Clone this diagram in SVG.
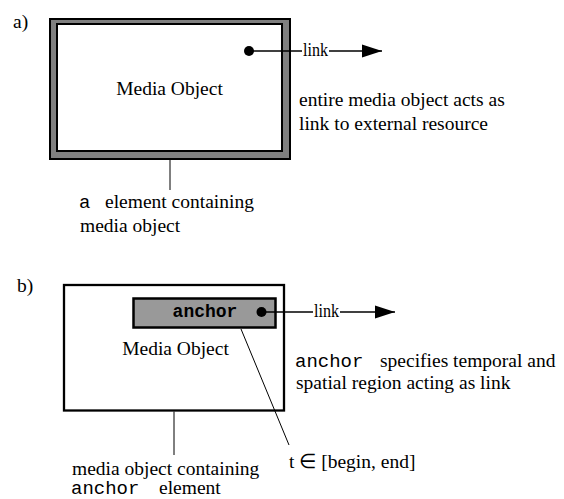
<svg xmlns="http://www.w3.org/2000/svg" width="564" height="499" viewBox="0 0 564 499">
  <defs>
    <style>
      .serif { font-family: "Liberation Serif", "Times New Roman", serif; font-size: 19.5px; fill: #000; }
      .mono { font-family: "Liberation Mono", "Courier New", monospace; font-size: 19px; fill: #000; }
      .monob { font-family: "Liberation Mono", "Courier New", monospace; font-size: 18px; font-weight: bold; fill: #000; }
      .wire { stroke: #000; stroke-width: 1.3; fill: none; }
      .leader { stroke: #000; stroke-width: 1; fill: none; }
      .dot { fill: #000; }
    </style>
    <marker id="arrow" markerWidth="20" markerHeight="14" refX="20" refY="7" orient="auto" markerUnits="userSpaceOnUse">
      <path d="M0,0.5 L20,7 L0,13.5 Z" fill="#000"/>
    </marker>
  </defs>
  <rect width="564" height="499" fill="#fff"/>

  <!-- part a) -->
  <text class="serif" x="13" y="28">a)</text>

  <g id="a-element">
    <rect x="50" y="19" width="240" height="140" fill="#808080" stroke="#000" stroke-width="2"/>
    <rect x="57" y="24" width="225" height="127" fill="#fff" stroke="#000" stroke-width="2"/>
    <text class="serif" x="169.5" y="95" text-anchor="middle">Media Object</text>
    <circle class="dot" cx="249" cy="51" r="5"/>
  </g>

  <g id="a-link-label">
    <text class="serif" x="303" y="56" textLength="25" lengthAdjust="spacingAndGlyphs">link</text>
  </g>

  <g id="a-notes">
    <text class="serif" x="299" y="106">entire media object acts as</text>
    <text class="serif" x="299" y="130">link to external resource</text>
    <text class="mono" x="79" y="208">a</text>
    <text class="serif" x="105" y="208">element containing</text>
    <text class="serif" x="80" y="232">media object</text>
  </g>

  <!-- part b) -->
  <text class="serif" x="17" y="292">b)</text>

  <g id="b-media">
    <rect x="64" y="285" width="220" height="125.5" fill="#fff" stroke="#000" stroke-width="2.3"/>
    <text class="serif" x="175.5" y="355" text-anchor="middle">Media Object</text>
  </g>

  <g id="b-anchor">
    <rect x="133.5" y="298.5" width="142" height="29" fill="#999" stroke="#000" stroke-width="2.5"/>
    <text class="monob" x="205" y="317" text-anchor="middle">anchor</text>
    <circle class="dot" cx="261.5" cy="312" r="5"/>
  </g>

  <g id="b-link-label">
    <text class="serif" x="314" y="317" textLength="25" lengthAdjust="spacingAndGlyphs">link</text>
  </g>

  <g id="b-notes">
    <text class="mono" x="295" y="367">anchor</text>
    <text class="serif" x="380" y="367">specifies temporal and</text>
    <text class="serif" x="296" y="389">spatial region acting as link</text>
    <text class="serif" x="289" y="468">t ∈ [begin, end]</text>
    <text class="serif" x="72" y="475">media object containing</text>
    <text class="mono" x="71" y="494">anchor</text>
    <text class="serif" x="159" y="494">element</text>
  </g>

  <!-- connectors -->
  <g id="connectors">
    <line class="wire" x1="249" y1="51" x2="302" y2="51"/>
    <line class="wire" x1="329" y1="51" x2="382" y2="51" marker-end="url(#arrow)"/>
    <line class="leader" x1="170" y1="160" x2="170" y2="190"/>
    <line class="wire" x1="261.5" y1="312" x2="313" y2="312"/>
    <line class="wire" x1="340" y1="312" x2="395" y2="312" marker-end="url(#arrow)"/>
    <line class="leader" x1="241" y1="329" x2="289" y2="445"/>
    <line class="leader" x1="174" y1="411.5" x2="174" y2="455"/>
  </g>
</svg>
